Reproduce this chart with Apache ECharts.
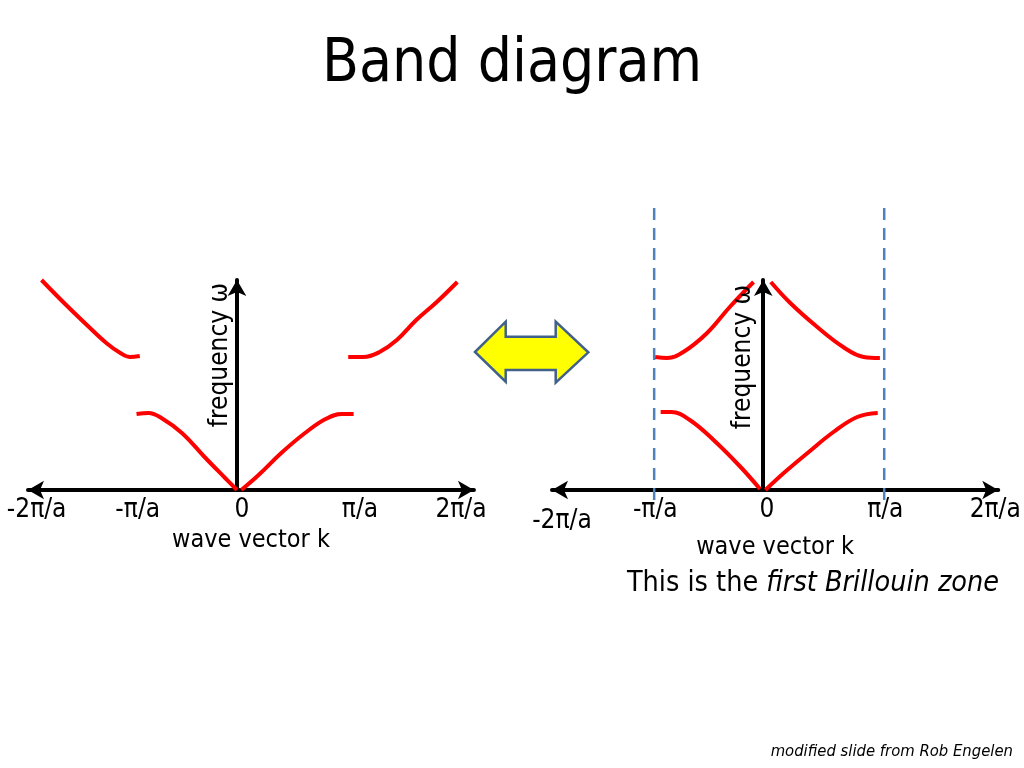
<!DOCTYPE html>
<html>
<head>
<meta charset="utf-8">
<script src="https://cdn.jsdelivr.net/npm/echarts@6/dist/echarts.min.js"></script>
<style>html,body{margin:0;padding:0;background:#fff}#c{width:1024px;height:768px}</style>
</head>
<body>
<div id="c"></div>
<script>
// ---- data (k in units of π/a, ω in arbitrary units) ----
const tickLabels = ['-2π/a', '-π/a', '0', 'π/a', '2π/a'];
const tickPosLeft = [-1.855, -0.919, 0.046, 1.139, 2.074];
const tickPosRight = [-1.864, -1.0, 0.034, 1.13, 2.148];
const kRangeLeft = [-1.935, 2.194];
const kRangeRight = [-1.956, 2.176];
const omegaRange = [0, 2.1];
const zoneEdges = [-1.01, 1.12];
const zoneOmega = [-0.10, 2.87];

// extended zone scheme (left)
const leftUpperNeg = [[-1.81,2.10],[-1.61,1.88],[-1.39,1.65],[-1.21,1.47],[-1.08,1.37],[-0.99,1.33],[-0.90,1.34]];
const leftUpperPos = [[1.03,1.33],[1.17,1.33],[1.32,1.38],[1.48,1.50],[1.66,1.70],[1.85,1.88],[2.04,2.08]];
const leftLowerNeg = [[-0.93,0.76],[-0.82,0.77],[-0.70,0.72],[-0.51,0.57],[-0.30,0.33],[-0.11,0.12],[0.0,0.0]];
const leftLowerPos = [[0.04,0.0],[0.20,0.15],[0.41,0.37],[0.63,0.57],[0.82,0.71],[0.97,0.76],[1.08,0.76]];

// reduced zone scheme (right)
const rightUpperNeg = [[-1.0,1.33],[-0.89,1.32],[-0.74,1.38],[-0.52,1.57],[-0.31,1.83],[-0.09,2.08]];
const rightUpperPos = [[0.07,2.08],[0.25,1.87],[0.50,1.63],[0.74,1.43],[0.93,1.33],[1.08,1.32]];
const rightLowerNeg = [[-0.95,0.78],[-0.85,0.78],[-0.68,0.70],[-0.46,0.50],[-0.21,0.23],[-0.03,0.01]];
const rightLowerPos = [[0.02,0.0],[0.19,0.17],[0.41,0.37],[0.65,0.58],[0.87,0.73],[1.06,0.77]];

// ---- layout ----
const S = 108;        // px per π/a
const FONT = "'DejaVu Sans Condensed', 'Liberation Sans', sans-serif";
const grids = [
  {left: 28, top: 280, width: (kRangeLeft[1]-kRangeLeft[0])*S, height: 210},
  {left: 552, top: 280, width: (kRangeRight[1]-kRangeRight[0])*S, height: 210}
];

function xAxisFor(i, range, ticks, nameGap, lowFirst) {
  return {
    type: 'value', gridIndex: i, min: range[0], max: range[1],
    name: 'wave vector k', nameLocation: 'middle', nameGap: nameGap,
    nameTextStyle: {fontFamily: FONT, fontSize: 25, color: '#000'},
    axisLine: {onZero: true, symbol: ['arrow', 'arrow'], symbolSize: [14, 16],
      lineStyle: {color: '#000', width: 4}},
    axisTick: {show: false},
    splitLine: {show: false},
    axisLabel: {
      customValues: ticks, margin: 7, fontFamily: FONT, fontSize: 26, color: '#000',
      rich: {lo: {fontFamily: FONT, fontSize: 26, color: '#000', lineHeight: 48}},
      formatter: function (v) {
        const j = ticks.indexOf(v);
        if (j < 0) return '';
        return (lowFirst && j === 0) ? '{lo|' + tickLabels[j] + '}' : tickLabels[j];
      }
    }
  };
}
function yAxisFor(i) {
  return {
    type: 'value', gridIndex: i, min: omegaRange[0], max: omegaRange[1],
    axisLine: {onZero: true, symbol: ['none', 'arrow'], symbolSize: [14, 16],
      lineStyle: {color: '#000', width: 4}},
    axisTick: {show: false}, axisLabel: {show: false}, splitLine: {show: false}
  };
}
function band(data, gi) {
  return {
    type: 'line', xAxisIndex: gi, yAxisIndex: gi, data: data,
    smooth: 0.4, showSymbol: false, clip: false, z: 3,
    lineStyle: {color: '#ff0000', width: 4, cap: 'butt', join: 'round'}
  };
}
function zoneLine(k) {
  return {
    type: 'line', xAxisIndex: 1, yAxisIndex: 1,
    data: [[k, zoneOmega[0]], [k, zoneOmega[1]]],
    showSymbol: false, clip: false, z: 1,
    lineStyle: {color: '#4f81bd', width: 2.5, type: [12, 8]}
  };
}

const chart = echarts.init(document.getElementById('c'), null, {renderer: 'canvas'});
chart.setOption({
  backgroundColor: '#fff',
  animation: false,
  title: {
    text: 'Band diagram', left: 'center', top: 30,
    textStyle: {fontFamily: FONT, fontSize: 60, fontWeight: 'normal', color: '#000'}
  },
  grid: grids.map(g => Object.assign({containLabel: false, outerBoundsMode: 'none'}, g)),
  xAxis: [xAxisFor(0, kRangeLeft, tickPosLeft, 38, false), xAxisFor(1, kRangeRight, tickPosRight, 41, true)],
  yAxis: [yAxisFor(0), yAxisFor(1)],
  series: [
    zoneLine(zoneEdges[0]), zoneLine(zoneEdges[1]),
    band(leftUpperNeg, 0), band(leftUpperPos, 0), band(leftLowerNeg, 0), band(leftLowerPos, 0),
    band(rightUpperNeg, 1), band(rightUpperPos, 1), band(rightLowerNeg, 1), band(rightLowerPos, 1)
  ],
  graphic: [
    {type: 'text', x: 220, y: 355, rotation: Math.PI / 2, z: 5,
      style: {text: 'frequency ω', fontFamily: FONT, fontSize: 26, fill: '#000', align: 'center', verticalAlign: 'middle'}},
    {type: 'text', x: 743, y: 357, rotation: Math.PI / 2, z: 5,
      style: {text: 'frequency ω', fontFamily: FONT, fontSize: 26, fill: '#000', align: 'center', verticalAlign: 'middle'}},
    {type: 'polygon', z: 5,
      shape: {points: [[475,352],[505.7,321.7],[505.7,336.7],[555.7,336.7],[555.7,321.7],[588.3,352.3],[555.7,382.7],[555.7,370],[505.7,370],[505.7,381.7]]},
      style: {fill: '#ffff00', stroke: '#41618a', lineWidth: 2.5}},
    {type: 'text', x: 813, y: 584, z: 5,
      style: {text: '{n|This is the }{i|first Brillouin zone}', align: 'center', verticalAlign: 'middle',
        rich: {n: {fontFamily: FONT, fontSize: 28.5, fill: '#000', color: '#000'},
               i: {fontFamily: FONT, fontSize: 28.5, fontStyle: 'italic', fill: '#000', color: '#000'}}}},
    {type: 'text', x: 1013, y: 752, z: 5,
      style: {text: 'modified slide from Rob Engelen', fontFamily: FONT, fontSize: 16.5, fontStyle: 'italic',
        fill: '#000', align: 'right', verticalAlign: 'middle'}}
  ]
});
</script>
</body>
</html>
